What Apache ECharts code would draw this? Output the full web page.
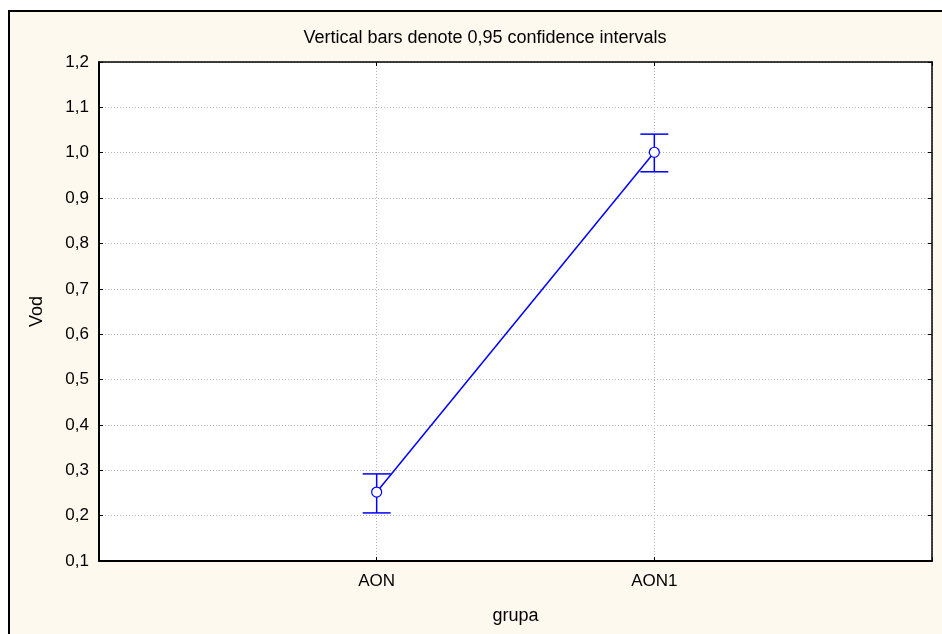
<!DOCTYPE html>
<html>
<head>
<meta charset="utf-8">
<script src="https://cdn.jsdelivr.net/npm/echarts@6/dist/echarts.min.js"></script>
<style>
  html, body { margin: 0; padding: 0; background: #ffffff; }
  #chart { width: 942px; height: 634px; }
</style>
</head>
<body>
<div id="chart"></div>
<script>
// ---- data ----
const categories = ['AON', 'AON1'];
const means = [0.252, 1.001];
const lowerCI = [0.206, 0.958];
const upperCI = [0.292, 1.041];
const yTicks = { min: 0.1, max: 1.2, step: 0.1 };
const titleText = 'Vertical bars denote 0,95 confidence intervals';
const xName = 'grupa';
const yName = 'Vod';

const FONT = "'Liberation Sans', Arial, sans-serif";
const BLUE = '#0000ff';

const lineData = categories.map((c, i) => [i + 1, means[i]]);
const errData = categories.map((c, i) => [i + 1, lowerCI[i], upperCI[i]]);

const chart = echarts.init(document.getElementById('chart'), null, { renderer: 'canvas' });

const gridLine = { show: true, lineStyle: { color: '#b4b4b4', width: 1, type: [1, 2] } };

const option = {
  animation: false,
  backgroundColor: '#ffffff',
  graphic: [{
    type: 'rect',
    z: -10,
    silent: true,
    shape: { x: 9, y: 11, width: 1000, height: 700 },
    style: { fill: '#fef9ee', stroke: '#000000', lineWidth: 2 }
  }],
  title: {
    text: titleText,
    left: 480,
    top: 24,
    textAlign: 'center',
    textStyle: { fontFamily: FONT, fontSize: 18, fontWeight: 'normal', color: '#000' }
  },
  grid: {
    left: 99, top: 62, width: 833, height: 499,
    show: true, backgroundColor: '#ffffff', borderWidth: 0
  },
  xAxis: [{
    type: 'value', min: 0, max: 3, interval: 1,
    name: xName, nameLocation: 'middle', nameGap: 46,
    nameTextStyle: { fontFamily: FONT, fontSize: 18, color: '#000' },
    axisLine: { show: true, onZero: false, lineStyle: { color: '#000', width: 2 } },
    axisTick: { show: true, inside: true, length: 4, lineStyle: { color: '#000', width: 1 } },
    axisLabel: {
      margin: 12, fontFamily: FONT, fontSize: 17, color: '#000',
      formatter: v => (v >= 1 && v <= categories.length && Number.isInteger(v)) ? categories[v - 1] : ''
    },
    splitLine: gridLine
  }, {
    type: 'value', min: 0, max: 3, interval: 1, position: 'top',
    axisLine: { show: true, onZero: false, lineStyle: { color: '#000', width: 1.5 } },
    axisTick: { show: true, inside: true, length: 4, lineStyle: { color: '#000', width: 1 } },
    axisLabel: { show: false },
    splitLine: { show: false }
  }],
  yAxis: [{
    type: 'value', min: yTicks.min, max: yTicks.max, interval: yTicks.step,
    name: yName, nameLocation: 'middle', nameGap: 53, nameRotate: 90,
    nameTextStyle: { fontFamily: FONT, fontSize: 18, color: '#000' },
    axisLine: { show: true, onZero: false, lineStyle: { color: '#000', width: 2 } },
    axisTick: { show: true, inside: true, length: 4, lineStyle: { color: '#000', width: 1 } },
    axisLabel: {
      margin: 10, fontFamily: FONT, fontSize: 17, color: '#000',
      formatter: v => v.toFixed(1).replace('.', ',')
    },
    splitLine: gridLine
  }, {
    type: 'value', min: yTicks.min, max: yTicks.max, interval: yTicks.step, position: 'right',
    axisLine: { show: true, onZero: false, lineStyle: { color: '#000', width: 1.5 } },
    axisTick: { show: true, inside: true, length: 4, lineStyle: { color: '#000', width: 1 } },
    axisLabel: { show: false },
    splitLine: { show: false }
  }],
  series: [{
    type: 'custom',
    xAxisIndex: 0, yAxisIndex: 0,
    z: 2,
    data: errData,
    renderItem: function (params, api) {
      const x = api.value(0);
      const lo = api.coord([x, api.value(1)]);
      const hi = api.coord([x, api.value(2)]);
      const half = 14;
      const style = { stroke: BLUE, lineWidth: 1.5, fill: null };
      return {
        type: 'group',
        children: [
          { type: 'line', shape: { x1: lo[0], y1: lo[1], x2: hi[0], y2: hi[1] }, style },
          { type: 'line', shape: { x1: lo[0] - half, y1: lo[1], x2: lo[0] + half, y2: lo[1] }, style },
          { type: 'line', shape: { x1: hi[0] - half, y1: hi[1], x2: hi[0] + half, y2: hi[1] }, style }
        ]
      };
    }
  }, {
    type: 'line',
    xAxisIndex: 0, yAxisIndex: 0,
    z: 3,
    data: lineData,
    lineStyle: { color: BLUE, width: 1.5 },
    symbol: 'circle', symbolSize: 10,
    itemStyle: { color: '#ffffff', borderColor: BLUE, borderWidth: 1.2 },
    showSymbol: true
  }]
};

chart.setOption(option);
</script>
</body>
</html>
